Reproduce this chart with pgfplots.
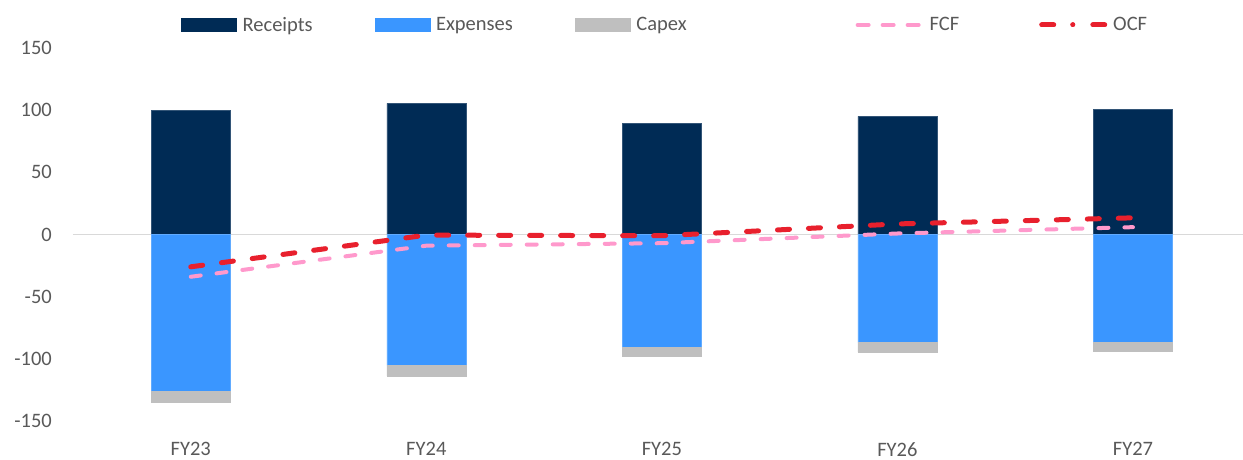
\documentclass[border=0pt]{standalone}
\usepackage{pgfplots}
\pgfplotsset{compat=1.18}
\usepackage{fontspec}
\setmainfont{Carlito}
\definecolor{recc}{HTML}{002B55}
\definecolor{expc}{HTML}{3A96FF}
\definecolor{capc}{HTML}{BFBFBF}
\definecolor{fcfc}{HTML}{FF99CC}
\definecolor{ocfc}{HTML}{E8202D}
\definecolor{txtc}{HTML}{595959}
\begin{document}
\begin{tikzpicture}
\path[use as bounding box] (-73pt,-39pt) rectangle (1170pt,421pt);
\begin{axis}[
  at={(0pt,0pt)}, anchor=south west,
  scale only axis, width=1170pt, height=373pt,
  xmin=-0.5, xmax=4.467, ymin=-150, ymax=150,
  ybar stacked, reverse stacked plots=false, bar width=79pt,
  xtick={0,1,2,3,4}, xticklabels={FY23,FY24,FY25,FY26,FY27},
  ytick={-150,-100,-50,0,50,100,150},
  axis line style={draw=none}, major tick length=0pt,
  /pgf/number format/assume math mode=true,
  tick label style={font=\fontsize{20.5}{24}\selectfont, text=txtc, inner sep=0pt},
  yticklabel style={anchor=east, xshift=-21pt},
  xticklabel style={anchor=north, yshift=-21pt},
  extra y ticks={0}, extra y tick labels={},
  extra y tick style={grid=major, major grid style={draw=black!15, line width=1pt}},
  legend columns=5,
  legend style={at={(0.0923,1.0617)}, anchor=west, draw=none, fill=none,
    inner sep=0pt, font=\fontsize{20.5}{24}\selectfont, text=txtc,
    /tikz/every odd column/.append style={column sep=4pt},
    /tikz/every even column/.append style={column sep=60pt}},
  legend cell align=left,
]
\addplot[stack plots=false, fill=recc, draw=recc!80!white,
  legend image code/.code={\fill[recc] (0pt,-6.5pt) rectangle (55pt,6.5pt);}]
  coordinates {(0,100) (1,105.5) (2,89.5) (3,95) (4,100.8)};
\addlegendentry{Receipts}
\addplot[fill=expc, draw=expc!80!white,
  legend image code/.code={\fill[expc] (0pt,-6.5pt) rectangle (55pt,6.5pt);}]
  coordinates {(0,-126) (1,-105.4) (2,-90.7) (3,-86.9) (4,-86.6)};
\addlegendentry{Expenses}
\addplot[fill=capc, draw=capc,
  legend image code/.code={\fill[capc] (0pt,-6.5pt) rectangle (55pt,6.5pt);}]
  coordinates {(0,-8.6) (1,-8.3) (2,-7.2) (3,-7.8) (4,-7.4)};
\addlegendentry{Capex\hspace*{107pt}}
\addplot[stack plots=false, sharp plot, no marks, draw=fcfc, line width=4pt,
  line cap=round, dash pattern=on 10pt off 16pt,
  legend image code/.code={\draw[fcfc, line width=4pt, line cap=round, dash pattern=on 11pt off 14pt] (2pt,0pt) -- (66pt,0pt);}]
  coordinates {(0,-34) (1,-9) (2,-7) (3,0.8) (4,5.9)};
\addlegendentry{FCF\hspace*{18pt}}
\addplot[stack plots=false, sharp plot, no marks, draw=ocfc, line width=5pt,
  line cap=round, dash pattern=on 12pt off 19pt,
  legend image code/.code={\draw[ocfc, line width=5pt, line cap=round, dash pattern=on 12pt off 19pt on 0.1pt off 20pt] (2.5pt,0pt) -- (65.5pt,0pt);}]
  coordinates {(0,-26) (1,-0.5) (2,-1) (3,8.5) (4,13.4)};
\addlegendentry{OCF}
\end{axis}
\end{tikzpicture}
\end{document}
